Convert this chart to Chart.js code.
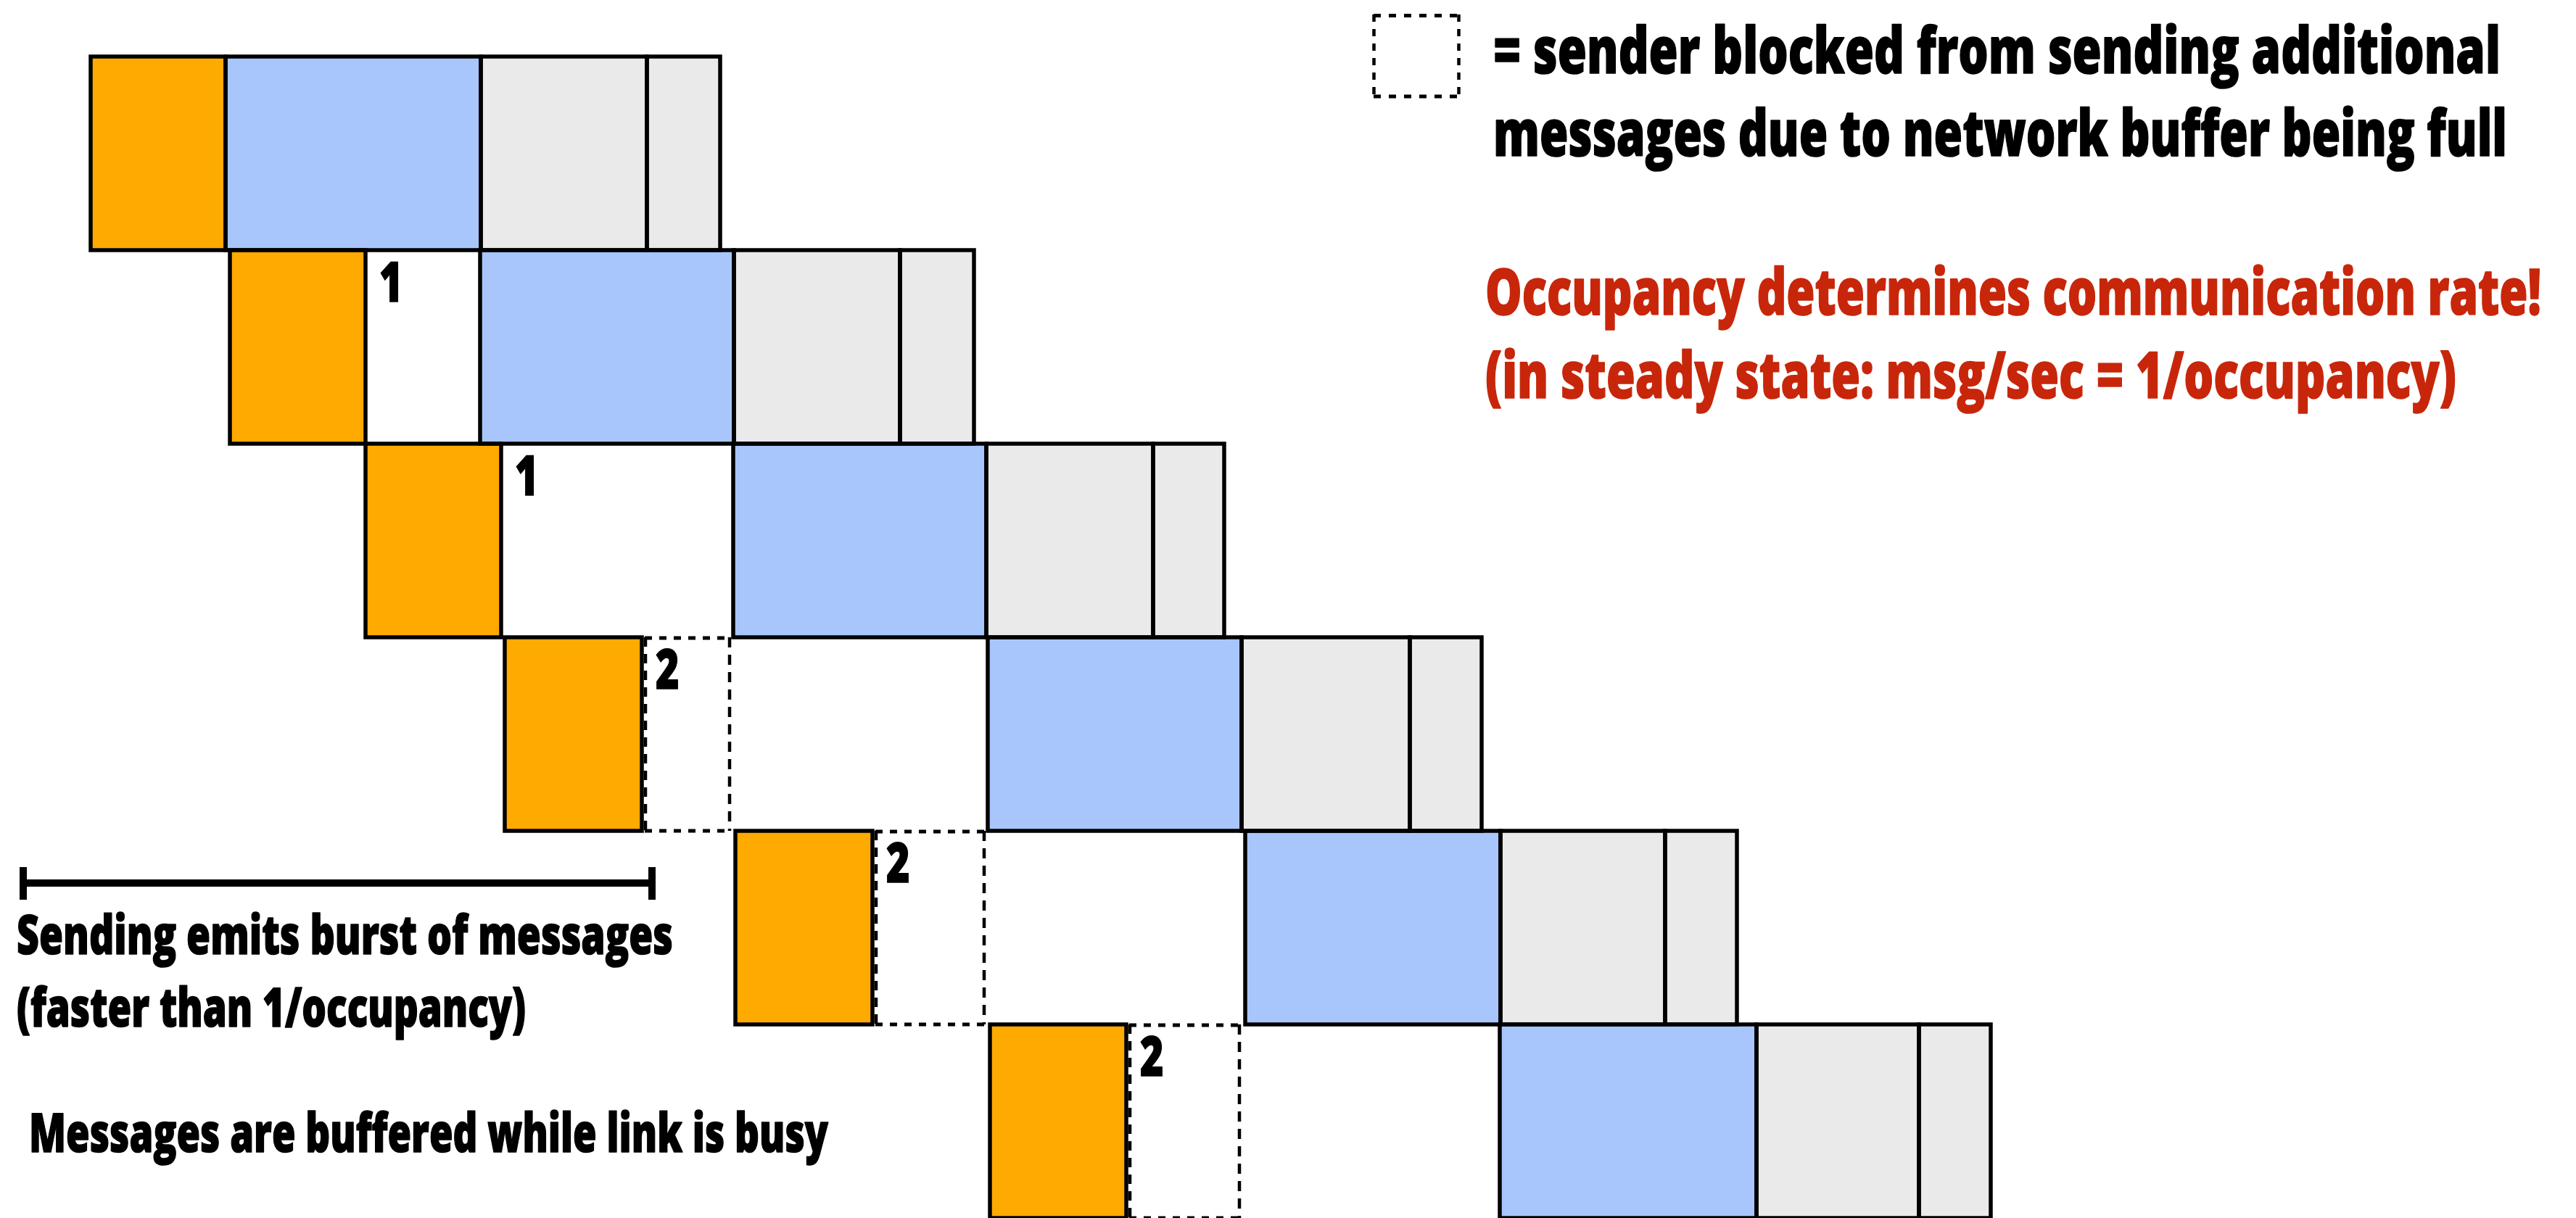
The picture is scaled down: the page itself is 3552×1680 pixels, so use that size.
<!DOCTYPE html>
<html>
<head>
<meta charset="utf-8">
<script src="https://cdn.jsdelivr.net/npm/chart.js@4.4.1/dist/chart.umd.min.js"></script>
<style>
html, body { margin: 0; padding: 0; background: #ffffff; }
#wrap { position: relative; width: 3552px; height: 1680px; }
</style>
</head>
<body>
<div id="wrap"><canvas id="c"></canvas></div>
<script>
// ---- data (time units along the timeline) ----
const messages = ['msg 1', 'msg 2', 'msg 3', 'msg 4', 'msg 5', 'msg 6'];
const sendPhase    = [[12.5, 31.1], [31.7, 50.4], [50.4, 69.1], [69.6, 88.5], [101.4, 120.3], [136.5, 155.3]];
const blockedPhase = [null, null, null, [88.5, 100.6], [120.3, 135.7], [155.3, 170.9]];
const linkPhase    = [[31.1, 66.3], [66.2, 101.2], [101.1, 136.0], [136.2, 171.2], [171.7, 206.9], [206.8, 242.2]];
const recvPhase    = [[66.3, 89.2], [101.2, 124.1], [136.0, 159.0], [171.2, 194.4], [206.9, 229.6], [242.2, 264.6]];
const ackPhase     = [[89.2, 99.3], [124.1, 134.3], [159.0, 168.8], [194.4, 204.3], [229.6, 239.5], [264.6, 274.5]];
const bufferCount  = [null, 1, 1, 2, 2, 2];
const timeRange    = [0, 355.2];

// ---- text annotations ----
const notes = [
  { text: '= sender blocked from sending additional', x: 2059, y: 101, width: 1389, size: 88, color: '#000000' },
  { text: 'messages due to network buffer being full', x: 2059, y: 215, width: 1398, size: 88, color: '#000000' },
  { text: 'Occupancy determines communication rate!', x: 2048, y: 434, width: 1456, size: 88, color: '#C8260A' },
  { text: '(in steady state: msg/sec = 1/occupancy)', x: 2048, y: 549, width: 1339, size: 88, color: '#C8260A' },
  { text: 'Sending emits burst of messages', x: 23, y: 1316, width: 905, size: 74, color: '#000000' },
  { text: '(faster than 1/occupancy)', x: 23, y: 1416, width: 702, size: 74, color: '#000000' },
  { text: 'Messages are buffered while link is busy', x: 40, y: 1589, width: 1102, size: 74, color: '#000000' }
];

const FONT = '"Open Sans", "Noto Sans", "Liberation Sans", sans-serif';

function fitText(ctx, t) {
  ctx.save();
  ctx.font = '800 ' + t.size + 'px ' + FONT;
  ctx.fillStyle = t.color;
  ctx.strokeStyle = t.color;
  ctx.lineWidth = 1.6;
  ctx.lineJoin = 'round';
  ctx.textAlign = 'left';
  ctx.textBaseline = 'alphabetic';
  const w = ctx.measureText(t.text).width;
  ctx.translate(t.x, t.y);
  ctx.scale(t.width / w, 1);
  ctx.fillText(t.text, 0, 0);
  ctx.strokeText(t.text, 0, 0);
  ctx.restore();
}

function rectOf(el) {
  const p = el.getProps(['x', 'y', 'base', 'height'], true);
  return { l: Math.min(p.x, p.base), r: Math.max(p.x, p.base), t: p.y - p.height / 2, b: p.y + p.height / 2 };
}

function dashedLine(ctx, x1, y1, x2, y2, dash) {
  ctx.setLineDash(dash);
  ctx.beginPath();
  ctx.moveTo(x1, y1);
  ctx.lineTo(x2, y2);
  ctx.stroke();
}

const diagramPlugin = {
  id: 'diagram',
  afterDatasetsDraw(chart) {
    const ctx = chart.ctx;
    ctx.save();
    ctx.strokeStyle = '#000000';
    chart.data.datasets.forEach((ds, di) => {
      const meta = chart.getDatasetMeta(di);
      meta.data.forEach((el, i) => {
        if (!ds.data[i]) return;
        const r = rectOf(el);
        if (ds.outline === 'solid') {
          ctx.lineWidth = 5.5;
          ctx.setLineDash([]);
          ctx.strokeRect(r.l, r.t, r.r - r.l, r.b - r.t);
        } else if (ds.outline === 'dashed') {
          ctx.lineWidth = 5;
          dashedLine(ctx, r.l + 4, r.t + 1, r.r, r.t + 1, [10, 10]);
          dashedLine(ctx, r.l + 4, r.b, r.r, r.b, [10, 10]);
          ctx.lineWidth = 4.5;
          dashedLine(ctx, r.l + 5, r.t, r.l + 5, r.b, [13, 10]);
          dashedLine(ctx, r.r, r.t, r.r, r.b, [14, 10]);
        }
      });
    });
    ctx.setLineDash([]);
    // buffer occupancy numbers
    const sendMeta = chart.getDatasetMeta(0);
    bufferCount.forEach((n, i) => {
      if (n === null) return;
      const r = rectOf(sendMeta.data[i]);
      ctx.save();
      ctx.font = '800 77px ' + FONT;
      ctx.fillStyle = '#000000';
      ctx.strokeStyle = '#000000';
      ctx.lineWidth = 1.5;
      ctx.textBaseline = 'alphabetic';
      ctx.translate(r.r + 19, r.t + 71);
      ctx.scale(0.72, 1);
      ctx.fillText(String(n), 0, 0);
      ctx.strokeText(String(n), 0, 0);
      ctx.restore();
    });
    ctx.restore();
  },
  afterDraw(chart) {
    const ctx = chart.ctx;
    ctx.save();
    // legend box
    ctx.strokeStyle = '#000000';
    ctx.lineWidth = 5;
    dashedLine(ctx, 1894, 21.5, 2012, 21.5, [10, 11]);
    dashedLine(ctx, 1894, 133, 2012, 133, [10, 11]);
    ctx.lineWidth = 4.5;
    dashedLine(ctx, 1894.5, 20, 1894.5, 135, [10, 10]);
    dashedLine(ctx, 2011.5, 20, 2011.5, 135, [10, 10]);
    ctx.setLineDash([]);
    // burst bracket
    ctx.fillStyle = '#000000';
    ctx.fillRect(31, 1213, 868, 10);
    ctx.fillRect(27, 1196, 10, 45);
    ctx.fillRect(894, 1196, 10, 45);
    ctx.restore();
    notes.forEach(t => fitText(ctx, t));
  }
};

new Chart(document.getElementById('c'), {
  type: 'bar',
  data: {
    labels: messages,
    datasets: [
      { label: 'send', data: sendPhase, backgroundColor: '#FFAA00', outline: 'solid' },
      { label: 'blocked', data: blockedPhase, backgroundColor: 'rgba(0,0,0,0)', outline: 'dashed' },
      { label: 'link', data: linkPhase, backgroundColor: '#A8C6FC', outline: 'solid' },
      { label: 'receive', data: recvPhase, backgroundColor: '#EAEAEA', outline: 'solid' },
      { label: 'ack', data: ackPhase, backgroundColor: '#EAEAEA', outline: 'solid' }
    ]
  },
  options: {
    indexAxis: 'y',
    responsive: true,
    maintainAspectRatio: false,
    animation: false,
    layout: { padding: { top: 78, left: 0, right: 0, bottom: 0 } },
    plugins: { legend: { display: false }, tooltip: { enabled: false }, title: { display: false } },
    datasets: { bar: { categoryPercentage: 1, barPercentage: 1, grouped: false, borderWidth: 0 } },
    scales: {
      x: { type: 'linear', min: timeRange[0], max: timeRange[1], display: false },
      y: { type: 'category', display: false, offset: true }
    }
  },
  plugins: [diagramPlugin]
});
</script>
</body>
</html>
